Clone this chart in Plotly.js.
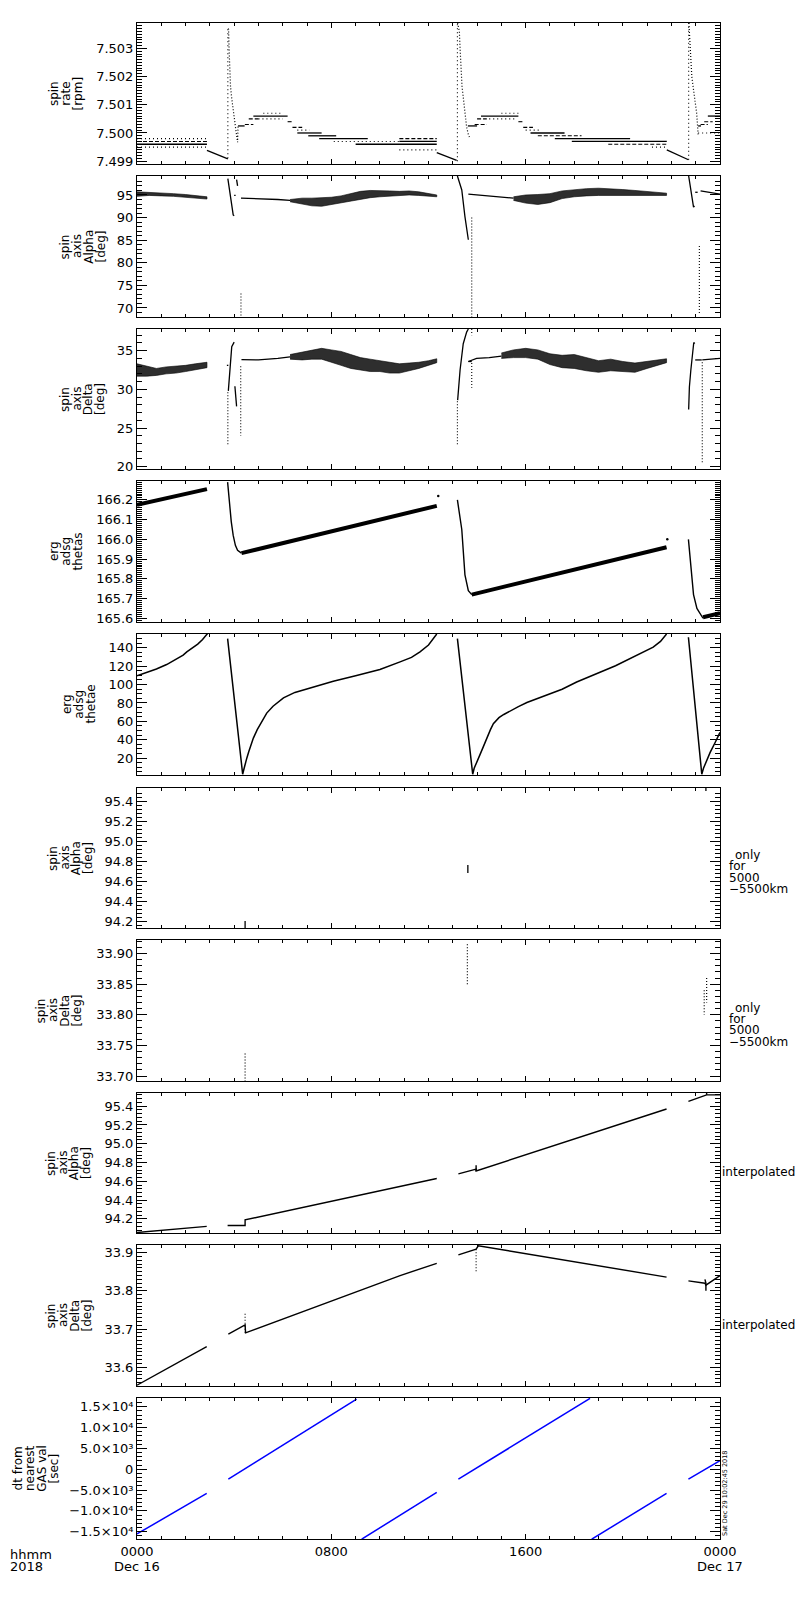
<!DOCTYPE html>
<html><head><meta charset="utf-8">
<script src="https://cdn.plot.ly/plotly-3.0.1.min.js"></script>
<style>body{margin:0;background:#fff}#chart{width:800px;height:1600px}</style>
</head><body><div id="chart"></div>
<script>
// ---------------- DATA (hours since 0000 Dec 16 2018) ----------------
const hourTicks = [0, 8, 16, 24];
const hourTickText = ['0000', '0800', '1600', '0000'];
const dayLabels = ['Dec 16', 'Dec 17'];
const dayLabelHours = [0, 24];
const yearLabel = ['hhmm', '2018'];

const panelTitles = [
  ['spin', 'rate', '[rpm]'],
  ['spin', 'axis', 'Alpha', '[deg]'],
  ['spin', 'axis', 'Delta', '[deg]'],
  ['erg', 'adsg', 'thetas'],
  ['erg', 'adsg', 'thetae'],
  ['spin', 'axis', 'Alpha', '[deg]'],
  ['spin', 'axis', 'Delta', '[deg]'],
  ['spin', 'axis', 'Alpha', '[deg]'],
  ['spin', 'axis', 'Delta', '[deg]'],
  ['dt from', 'nearest', 'GAS val', '[sec]']
];
const onlyNote = ['only', 'for', '5000', '\u22125500km'];
const interpNote = 'interpolated';
const stampText = 'Sat Dec 29 10:02:45 2018';

// Panel 1: spin rate [rpm]  (quantised levels [start h, end h, value])
const p1Solid = [[0,2.88,7.4996],[4.16,4.43,7.50025],[4.79,6.2,7.5006],[6.6,7.6,7.5000],[7.05,8.2,7.4999],[7.5,9.5,7.4998],[9.0,12.34,7.4996],[10.8,12.34,7.4997],[13.62,14.0,7.50025],[14.16,15.7,7.5006],[16.2,17.6,7.5000],[17.2,20.3,7.4998],[17.9,21.81,7.4997],[23.1,23.22,7.50025],[23.5,24,7.5006]];
const p1Dash = [[0,2.88,7.4997],[4.44,4.79,7.5003],[4.6,5.0,7.5005],[6.2,6.4,7.5004],[6.4,6.8,7.5002],[10.8,12.34,7.4998],[13.9,14.4,7.5003],[14.0,14.4,7.5005],[15.7,15.9,7.5004],[15.9,16.3,7.5002],[16.5,18.3,7.4999],[19.4,21.81,7.4996],[23.2,23.5,7.5003],[23.35,23.7,7.5004]];
const p1Dot = [[0,2.88,7.4998],[0,2.88,7.4995],[5.2,6.0,7.5007],[5.0,6.0,7.5005],[6.6,7.1,7.5001],[8.1,10.8,7.4997],[10.8,12.34,7.4994],[15.0,15.7,7.5007],[14.5,15.6,7.5005],[16.0,16.6,7.5001],[21.2,21.81,7.4995],[23.1,24,7.5000]];
const p1DiagH = [2.88,3.74,null,12.34,13.16,null,21.81,22.7];
const p1DiagY = [7.49938,7.49908,null,7.4993,7.49903,null,7.4994,7.49905];
const p1RiseH = [3.74,3.74,null,13.19,13.19,null,22.71,22.71];
const p1RiseY = [7.4991,7.5037,null,7.4990,7.5039,null,7.49905,7.5039];
const p1DecayH = [3.75,3.77,3.79,3.81,3.85,3.89,3.94,4.0,4.07,4.14,4.16,null,13.2,13.27,13.30,13.34,13.38,13.44,13.5,13.57,13.64,13.71,null,22.72,22.74,22.77,22.84,22.9,22.97,23.04,23.1];
const p1DecayY = [7.5037,7.50368,7.5030,7.5021,7.50165,7.5013,7.5009,7.5006,7.5001,7.49967,7.50025,null,7.5039,7.5036,7.5030,7.5021,7.50165,7.5012,7.5007,7.5002,7.49995,7.4998,null,7.5039,7.5036,7.5030,7.5020,7.5016,7.5012,7.5007,7.49995];

// Panel 2: spin axis Alpha [deg]
const p2aH = [0,0.5,1.0,1.5,2.0,2.5,2.88];
const p2aLo = [94.7,94.9,94.8,94.7,94.5,94.3,94.1];
const p2aHi = [95.7,95.6,95.5,95.3,95.1,94.8,94.6];
const p2bH = [6.3,6.8,7.2,7.6,8.0,8.4,8.8,9.2,9.6,10.0,10.4,10.8,11.2,11.6,12.0,12.34];
const p2bLo = [93.5,93.0,92.6,92.5,92.8,93.3,93.6,94.0,94.4,94.6,94.8,94.9,95.0,94.9,94.8,94.6];
const p2bHi = [94.0,94.3,94.3,94.4,94.5,94.8,95.3,95.8,96.0,96.0,95.9,95.8,95.9,95.7,95.4,95.0];
const p2cH = [15.5,16.0,16.5,17.0,17.5,18.0,18.5,19.0,19.5,20.0,20.5,21.0,21.5,21.8];
const p2cLo = [93.8,93.2,92.9,93.3,94.2,94.6,94.8,94.9,95.0,95.0,94.9,94.9,94.9,94.9];
const p2cHi = [94.6,95.0,95.1,95.3,95.9,96.2,96.4,96.5,96.4,96.2,96.0,95.8,95.6,95.4];
const p2LineH = [3.74,3.82,3.96,4.0,null,4.0,4.06,null,4.1,4.14,null,4.28,5.0,5.8,6.3,null,13.19,13.37,13.5,13.64,null,13.64,14.3,14.93,15.5,null,22.71,22.8,22.91,22.95,null,22.98,23.08,null,23.2,24];
const p2LineY = [98.6,95.5,90.6,90.4,null,94.9,94.9,null,98.4,97.0,null,94.3,94.2,94.0,93.8,null,99.2,96.1,90.2,85.1,null,95.2,94.9,94.6,94.3,null,99.2,96.0,92.3,92.6,null,95.6,95.6,null,95.9,95.2];
const p2DotH = [4.28,4.28,null,13.78,13.78,null,23.15,23.15];
const p2DotY = [73.2,68.0,null,90.0,68.0,null,83.7,68.5];

// Panel 3: spin axis Delta [deg]
const p3aH = [0,0.4,0.8,1.2,1.6,2.0,2.4,2.88];
const p3aLo = [31.7,31.7,31.8,32.0,32.1,32.3,32.5,32.8];
const p3aHi = [33.3,33.0,32.7,32.9,33.0,33.1,33.3,33.5];
const p3bH = [6.3,6.8,7.2,7.6,8.0,8.4,8.8,9.2,9.6,10.0,10.4,10.8,11.2,11.6,12.0,12.34];
const p3bLo = [33.9,33.8,33.9,33.9,33.5,33.1,32.7,32.5,32.3,32.3,32.1,32.1,32.4,32.7,33.1,33.45];
const p3bHi = [34.5,34.8,35.1,35.3,35.1,34.9,34.5,34.1,33.9,33.7,33.5,33.3,33.4,33.5,33.7,33.95];
const p3cH = [15.0,15.5,16.0,16.5,17.0,17.5,18.0,18.5,19.0,19.5,20.0,20.5,21.0,21.5,21.8];
const p3cLo = [34.0,34.1,34.1,33.9,33.2,32.8,32.7,32.4,32.2,32.4,32.3,32.2,32.7,33.2,33.45];
const p3cHi = [34.7,35.1,35.3,35.1,34.6,34.4,34.5,34.1,33.7,33.9,33.6,33.4,33.6,33.8,33.95];
const p3LineH = [3.76,3.84,3.9,4.0,null,3.7,3.76,null,4.03,4.1,null,4.3,5.0,5.8,6.3,null,13.2,13.3,13.43,13.57,13.64,null,13.64,13.78,null,13.64,13.98,14.5,15.0,null,22.71,22.74,22.8,22.92,22.96,null,22.98,23.25,null,23.27,24];
const p3LineY = [29.8,33.8,35.5,36.1,null,33.1,33.1,null,30.4,27.8,null,33.85,33.8,34.0,34.2,null,28.6,32.5,35.9,37.4,37.8,null,33.6,33.6,null,33.6,34.0,34.1,34.3,null,27.4,30.3,32.5,36.05,35.9,null,33.8,33.8,null,33.8,34.0];
const p3DotH = [3.74,3.74,null,4.27,4.27,null,13.19,13.19,null,13.78,13.78,null,13.78,13.78,null,23.27,23.27];
const p3DotY = [22.9,29.8,null,33.0,24.0,null,22.9,28.6,null,37.8,37.0,null,33.4,30.2,null,33.5,20.5];

// Panel 4: erg adsg thetas
const p4BandH = [0,2.88,null,4.3,12.34,null,13.78,21.8,null,23.3,24];
const p4BandY = [166.175,166.255,null,165.93,166.17,null,165.72,165.96,null,165.605,165.625];
const p4DropH = [3.73,3.8,3.88,3.96,4.05,4.14,4.3,null,13.19,13.37,13.5,13.64,13.78,null,22.7,22.91,23.05,23.3];
const p4DropY = [166.29,166.19,166.09,166.02,165.97,165.945,165.93,null,166.2,166.05,165.82,165.74,165.72,null,166.0,165.72,165.65,165.6];
const p4DotH = [12.4,21.83];
const p4DotY = [166.22,166.0];

// Panel 5: erg adsg thetae
const p5H = [0,0.5,0.8,1.22,1.6,1.9,2.05,2.3,2.5,2.7,2.87,2.95,null,
  3.73,4.35,4.4,4.45,4.52,4.6,4.7,4.79,4.95,5.15,5.34,5.6,6.03,6.5,7.12,7.6,8.08,9.0,10.0,10.83,11.3,11.65,12.0,12.34,null,
  13.19,13.82,13.88,13.95,14.03,14.12,14.25,14.4,14.55,14.67,14.9,15.1,15.36,15.7,16.05,16.5,17.0,17.5,18.1,18.6,19.06,19.7,20.43,20.9,21.25,21.55,21.8,null,
  22.7,23.25,23.32,23.4,23.5,23.59,23.8,24];
const p5Y = [109.5,114,117,121.8,127,132,135.6,140,144,149,153.8,157,null,
  150,2.5,8,12,20,27,35,41.8,51,61,69,76.5,85.5,91.5,96.4,100,103.6,109.5,116.5,124.7,129.5,135.6,143,155,null,
  150,2.5,9,14,19,23.8,32,42,51,57.5,64,67.5,71.4,76,80.5,85,89.6,95,102.8,108,113.4,120.5,129.8,135.5,140.7,147,155,null,
  151.5,2.5,9,14,20,26,37,48];

// Panel 6 / 7: only for 5000-5500 km
const p6MarkH = [4.45,4.45,null,13.62,13.62,null,23.42,23.42];
const p6MarkY = [94.13,94.2,null,94.68,94.76,null,95.5,95.53];
const p7MarkH = [4.45,4.45,null,13.6,13.6,null,23.35,23.35,null,23.45,23.45];
const p7MarkY = [33.737,33.692,null,33.915,33.85,null,33.84,33.80,null,33.86,33.82];

// Panel 8: interpolated Alpha
const p8H = [0,2.87,null,3.73,4.45,4.45,10.83,12.34,null,13.23,13.96,13.96,21.8,null,22.7,23.45,24,null,13.96,13.96,null,23.45,23.45];
const p8Y = [94.055,94.12,null,94.13,94.13,94.19,94.55,94.63,null,94.68,94.73,94.71,95.37,null,95.45,95.52,95.52,null,94.71,94.77,null,95.52,95.54];
// Panel 9: interpolated Delta
const p9H = [0,2.87,null,3.76,4.45,4.47,10.83,12.34,null,13.23,13.96,14.05,21.8,null,22.7,23.38,23.42,24,null,23.38,23.42,23.42];
const p9Y = [33.553,33.654,null,33.687,33.711,33.69,33.84,33.872,null,33.894,33.909,33.918,33.836,null,33.826,33.82,33.815,33.84,null,33.83,33.82,33.80];
const p9DotH = [4.45,4.45,null,13.96,13.96];
const p9DotY = [33.74,33.69,null,33.909,33.85];

// Panel 10: dt from nearest GAS val [sec]
const p10H = [0,2.87,null,3.76,9.04,null,9.25,12.34,null,13.23,18.65,null,18.72,21.8,null,22.7,24];
const p10Y = [-15550,-5800,null,-2400,16830,null,-16800,-5560,null,-2400,17000,null,-16800,-5800,null,-2400,2070];
const p10TickVals = [-15000,-10000,-5000,0,5000,10000,15000];
const p10TickText = ['\u22121.5\u00d710\u2074','\u22121.0\u00d710\u2074','\u22125.0\u00d710\u00b3','0','5.0\u00d710\u00b3','1.0\u00d710\u2074','1.5\u00d710\u2074'];

// ---------------- LAYOUT CONFIG ----------------
const FONT = 'DejaVu Sans, sans-serif';
const L = 137, R = 720, T = 23, B = 1539, W = 800, H = 1600;
const panelPx = [[23,164],[176,317],[329,469],[481,622],[634,775],[788,928],[940,1081],[1093,1233],[1245,1386],[1398,1539]];
const axCfg = [
  {range:[7.4989,7.5039], tick0:7.499, dtick:0.001, minor:0.0001, fmt:'.3f'},
  {range:[68.0,99.2], tick0:70, dtick:5, minor:1, fmt:'d'},
  {range:[19.7,37.8], tick0:20, dtick:5, minor:1, fmt:'d'},
  {range:[165.581,166.296], tick0:165.6, dtick:0.1, minor:0.01, fmt:'.1f'},
  {range:[1.7,155], tick0:20, dtick:20, minor:5, fmt:'d'},
  {range:[94.13,95.53], tick0:94.2, dtick:0.2, minor:0.04, fmt:'.1f'},
  {range:[33.692,33.922], tick0:33.70, dtick:0.05, minor:0.01, fmt:'.2f'},
  {range:[94.05,95.54], tick0:94.2, dtick:0.2, minor:0.04, fmt:'.1f'},
  {range:[33.551,33.92], tick0:33.6, dtick:0.1, minor:0.01, fmt:'.1f'},
  {range:[-16760,17090], minor:1000}
];
const titleLastColPx = [78,100,100,78,90,88,77,86,86,53];
const colStep = 11.7;

const pyP = px => (B - px) / (B - T);
const pxP = px => (px - L) / (R - L);
const sub = n => (n === 1 ? '' : String(n));

const traces = [];
function base(n){ return {type:'scatter', xaxis:'x'+sub(n), yaxis:'y'+sub(n), hoverinfo:'skip', showlegend:false, cliponaxis:true}; }
function addLine(n, x, y, width, dash, color){
  traces.push(Object.assign(base(n), {mode:'lines', x:x, y:y, connectgaps:false, line:{color:color||'black', width:width, dash:dash||'solid'}}));
}
function addSegs(n, list, width, dash){
  const x=[], y=[];
  list.forEach(s => { x.push(s[0], s[1], null); y.push(s[2], s[2], null); });
  addLine(n, x, y, width, dash);
}
function addBand(n, h, lo, hi){
  const x = h.concat(h.slice().reverse());
  const y = hi.concat(lo.slice().reverse());
  traces.push(Object.assign(base(n), {mode:'lines', x:x, y:y, fill:'toself', fillcolor:'rgba(0,0,0,0.82)', line:{color:'black', width:0.6}}));
}
function addDots(n, x, y, size){
  traces.push(Object.assign(base(n), {mode:'markers', x:x, y:y, marker:{color:'black', size:size||2.5}}));
}

// Panel 1
addSegs(1, p1Solid, 1.3, 'solid');
addSegs(1, p1Dash, 1.1, '4px,2px');
addSegs(1, p1Dot, 1.1, '1px,3px');
addLine(1, p1DiagH, p1DiagY, 1.3);
addLine(1, p1RiseH, p1RiseY, 1.1, '1px,3px');
addLine(1, p1DecayH, p1DecayY, 1.2, '1px,2px');
// Panel 2
addBand(2, p2aH, p2aLo, p2aHi);
addBand(2, p2bH, p2bLo, p2bHi);
addBand(2, p2cH, p2cLo, p2cHi);
addLine(2, p2LineH, p2LineY, 1.3);
addLine(2, p2DotH, p2DotY, 1.1, '1px,2px');
// Panel 3
addBand(3, p3aH, p3aLo, p3aHi);
addBand(3, p3bH, p3bLo, p3bHi);
addBand(3, p3cH, p3cLo, p3cHi);
addLine(3, p3LineH, p3LineY, 1.3);
addLine(3, p3DotH, p3DotY, 1.1, '1px,2px');
// Panel 4
addLine(4, p4BandH, p4BandY, 4);
addLine(4, p4DropH, p4DropY, 1.4);
addDots(4, p4DotH, p4DotY, 2.5);
// Panel 5
addLine(5, p5H, p5Y, 1.5);
// Panel 6, 7
addLine(6, p6MarkH, p6MarkY, 1.3);
addLine(7, p7MarkH, p7MarkY, 1.2, '1px,2px');
// Panel 8, 9
addLine(8, p8H, p8Y, 1.4);
addLine(9, p9H, p9Y, 1.4);
addLine(9, p9DotH, p9DotY, 1.1, '1px,2px');
// Panel 10
addLine(10, p10H, p10Y, 1.5, 'solid', '#0000ff');

const layout = {
  width: W, height: H,
  margin: {l: L, r: W - R, t: T, b: H - B, pad: 0},
  paper_bgcolor: 'white', plot_bgcolor: 'white',
  font: {family: FONT, size: 13, color: 'black'},
  showlegend: false,
  annotations: []
};

const axisCommon = {
  showline: true, linecolor: 'black', linewidth: 1, mirror: 'ticks',
  ticks: 'inside', tickcolor: 'black', tickwidth: 1,
  showgrid: false, zeroline: false, fixedrange: true,
  tickfont: {family: FONT, size: 13, color: 'black'}
};

for (let i = 0; i < 10; i++) {
  const n = i + 1, s = sub(n);
  const dom = [pyP(panelPx[i][1]), pyP(panelPx[i][0])];
  layout['xaxis' + s] = Object.assign({}, axisCommon, {
    domain: [0, 1], anchor: 'y' + s, range: [0, 24],
    tickmode: 'array', tickvals: hourTicks, ticktext: hourTickText,
    ticklen: 5, showticklabels: n === 10,
    minor: {ticks: 'inside', tickmode: 'linear', tick0: 0, dtick: 1, ticklen: 3, tickcolor: 'black', tickwidth: 1}
  });
  const c = axCfg[i];
  const ya = Object.assign({}, axisCommon, {
    domain: dom, anchor: 'x' + s, range: c.range, ticklen: 10,
    minor: {ticks: 'inside', tickmode: 'linear', tick0: 0, dtick: c.minor, ticklen: 5, tickcolor: 'black', tickwidth: 1}
  });
  if (n === 10) {
    ya.tickmode = 'array'; ya.tickvals = p10TickVals; ya.ticktext = p10TickText;
  } else {
    ya.tickmode = 'linear'; ya.tick0 = c.tick0; ya.dtick = c.dtick; ya.tickformat = c.fmt;
  }
  layout['yaxis' + s] = ya;

  // y-axis titles (one annotation per line, IDL-style tight spacing)
  const lines = panelTitles[i];
  const yc = pyP((panelPx[i][0] + panelPx[i][1]) / 2);
  lines.forEach((t, k) => {
    const xc = titleLastColPx[i] - (lines.length - 1 - k) * colStep;
    layout.annotations.push({text: t, xref: 'paper', yref: 'paper', x: pxP(xc), y: yc,
      xanchor: 'center', yanchor: 'middle', textangle: -90, showarrow: false,
      font: {family: FONT, size: 12, color: 'black'}});
  });
}

// right-side notes
[[6, [855, 866.5, 877.7, 889]], [7, [1008, 1019.2, 1030.4, 1041.7]]].forEach(([n, ys]) => {
  onlyNote.forEach((t, k) => {
    layout.annotations.push({text: t, xref: 'paper', yref: 'paper', x: pxP(k === 0 ? 733 : 727), y: pyP(ys[k]),
      xanchor: 'left', yanchor: 'middle', showarrow: false, font: {family: FONT, size: 12, color: 'black'}});
  });
});
[1172, 1325].forEach(yp => {
  layout.annotations.push({text: interpNote, xref: 'paper', yref: 'paper', x: pxP(720), y: pyP(yp),
    xanchor: 'left', yanchor: 'middle', showarrow: false, font: {family: FONT, size: 12, color: 'black'}});
});
layout.annotations.push({text: stampText, xref: 'paper', yref: 'paper', x: pxP(725), y: pyP(1493),
  xanchor: 'center', yanchor: 'middle', textangle: -90, showarrow: false, font: {family: FONT, size: 6.5, color: 'black'}});

// bottom labels
dayLabels.forEach((t, k) => {
  layout.annotations.push({text: t, xref: 'x10', yref: 'paper', x: dayLabelHours[k], y: pyP(1566),
    xanchor: 'center', yanchor: 'middle', showarrow: false, font: {family: FONT, size: 13, color: 'black'}});
});
yearLabel.forEach((t, k) => {
  layout.annotations.push({text: t, xref: 'paper', yref: 'paper', x: pxP(8), y: pyP(k === 0 ? 1554 : 1566),
    xanchor: 'left', yanchor: 'middle', showarrow: false, font: {family: FONT, size: 13, color: 'black'}});
});

Plotly.newPlot('chart', traces, layout, {staticPlot: true, displayModeBar: false});
</script>
</body></html>
